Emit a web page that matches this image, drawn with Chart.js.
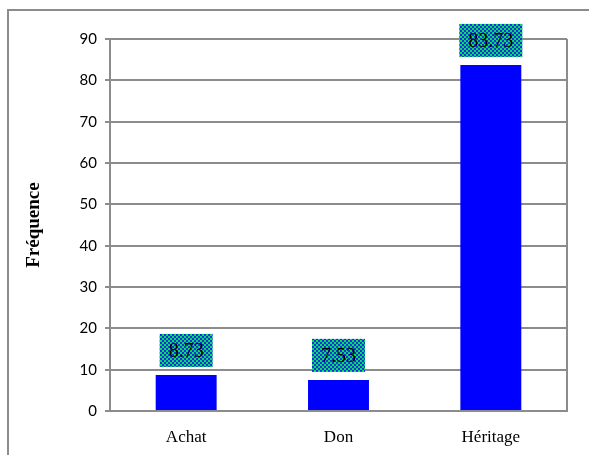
<!DOCTYPE html>
<html>
<head>
<meta charset="utf-8">
<script src="https://cdn.jsdelivr.net/npm/chart.js@4/dist/chart.umd.min.js"></script>
<style>
    html, body { margin: 0; padding: 0; background: #fff; }
    #wrap { width: 589px; height: 455px; position: relative; }
</style>
</head>
<body>
<div id="wrap"><canvas id="freqChart" width="589" height="455"></canvas></div>
<script>
// Mode d'acquisition - fréquences (%)
const categories = ['Achat', 'Don', 'Héritage'];
const frequencies = [8.73, 7.53, 83.73];
const valueLabels = ['8.73', '7.53', '83.73'];

const gridColor = '#8c8c8c';
const serif = '"Liberation Serif", "Times New Roman", serif';

// checkered green/blue fill used behind the value labels
function makeCheckerPattern(ctx) {
    const c = document.createElement('canvas');
    c.width = 4;
    c.height = 4;
    const p = c.getContext('2d');
    p.fillStyle = '#1428ff';
    p.fillRect(0, 0, 4, 4);
    p.fillStyle = '#00e840';
    p.fillRect(0, 0, 2, 2);
    p.fillRect(2, 2, 2, 2);
    return ctx.createPattern(c, 'repeat');
}

// outer frame (left + top edges) and right border of the plot area
const framePlugin = {
    id: 'frame',
    beforeDraw(chart) {
        const ctx = chart.ctx;
        ctx.save();
        ctx.strokeStyle = '#8c8c8c';
        ctx.lineWidth = 2;
        ctx.beginPath();
        ctx.moveTo(8, 460);
        ctx.lineTo(8, 10);
        ctx.lineTo(600, 10);
        ctx.stroke();
        ctx.restore();
    },
    afterDraw(chart) {
        const a = chart.chartArea;
        const ctx = chart.ctx;
        ctx.save();
        ctx.strokeStyle = gridColor;
        ctx.lineWidth = 2;
        ctx.beginPath();
        ctx.moveTo(a.right, a.top);
        ctx.lineTo(a.right, a.bottom);
        ctx.stroke();
        ctx.restore();
    }
};

// value labels in patterned boxes above the bars
const valueBoxPlugin = {
    id: 'valueBoxes',
    afterDatasetsDraw(chart) {
        const ctx = chart.ctx;
        const meta = chart.getDatasetMeta(0);
        const pattern = makeCheckerPattern(ctx);
        ctx.save();
        ctx.font = '20px ' + serif;
        ctx.textAlign = 'center';
        ctx.textBaseline = 'middle';
        meta.data.forEach((bar, i) => {
            const text = valueLabels[i];
            const w = ctx.measureText(text).width + 18;
            const h = 33;
            const bottom = bar.y - 8;
            ctx.fillStyle = pattern;
            ctx.fillRect(bar.x - w / 2, bottom - h, w, h);
            ctx.fillStyle = '#000';
            ctx.fillText(text, bar.x, bottom - h / 2 + 1);
        });
        ctx.restore();
    }
};

const ctx = document.getElementById('freqChart').getContext('2d');
const freqChart = new Chart(ctx, {
    type: 'bar',
    data: {
        labels: categories,
        datasets: [{
            data: frequencies,
            backgroundColor: '#0000ff',
            borderWidth: 0,
            barPercentage: 0.4,
            categoryPercentage: 1.0
        }]
    },
    options: {
        responsive: false,
        animation: false,
        layout: {
            padding: { top: 39, right: 22, bottom: 0, left: 0 }
        },
        plugins: {
            legend: { display: false },
            title: { display: false },
            tooltip: { enabled: false }
        },
        scales: {
            x: {
                grid: { display: false },
                border: { color: gridColor, width: 2 },
                ticks: {
                    color: '#000',
                    padding: 8,
                    font: { family: serif, size: 17 }
                },
                afterFit(scale) { scale.height = 44; }
            },
            y: {
                min: 0,
                max: 90,
                ticks: {
                    stepSize: 10,
                    color: '#000',
                    padding: 8,
                    font: { family: 'Lato, "Open Sans", sans-serif', size: 15 }
                },
                grid: {
                    color: gridColor,
                    lineWidth: 2,
                    tickLength: 5,
                    drawTicks: true
                },
                border: { color: gridColor, width: 2 },
                title: {
                    display: true,
                    text: 'Fréquence',
                    color: '#000',
                    padding: { top: 23, bottom: 0 },
                    font: { family: serif, size: 19, weight: 'bold' }
                },
                afterFit(scale) { scale.width = 110; }
            }
        }
    },
    plugins: [framePlugin, valueBoxPlugin]
});
</script>
</body>
</html>
